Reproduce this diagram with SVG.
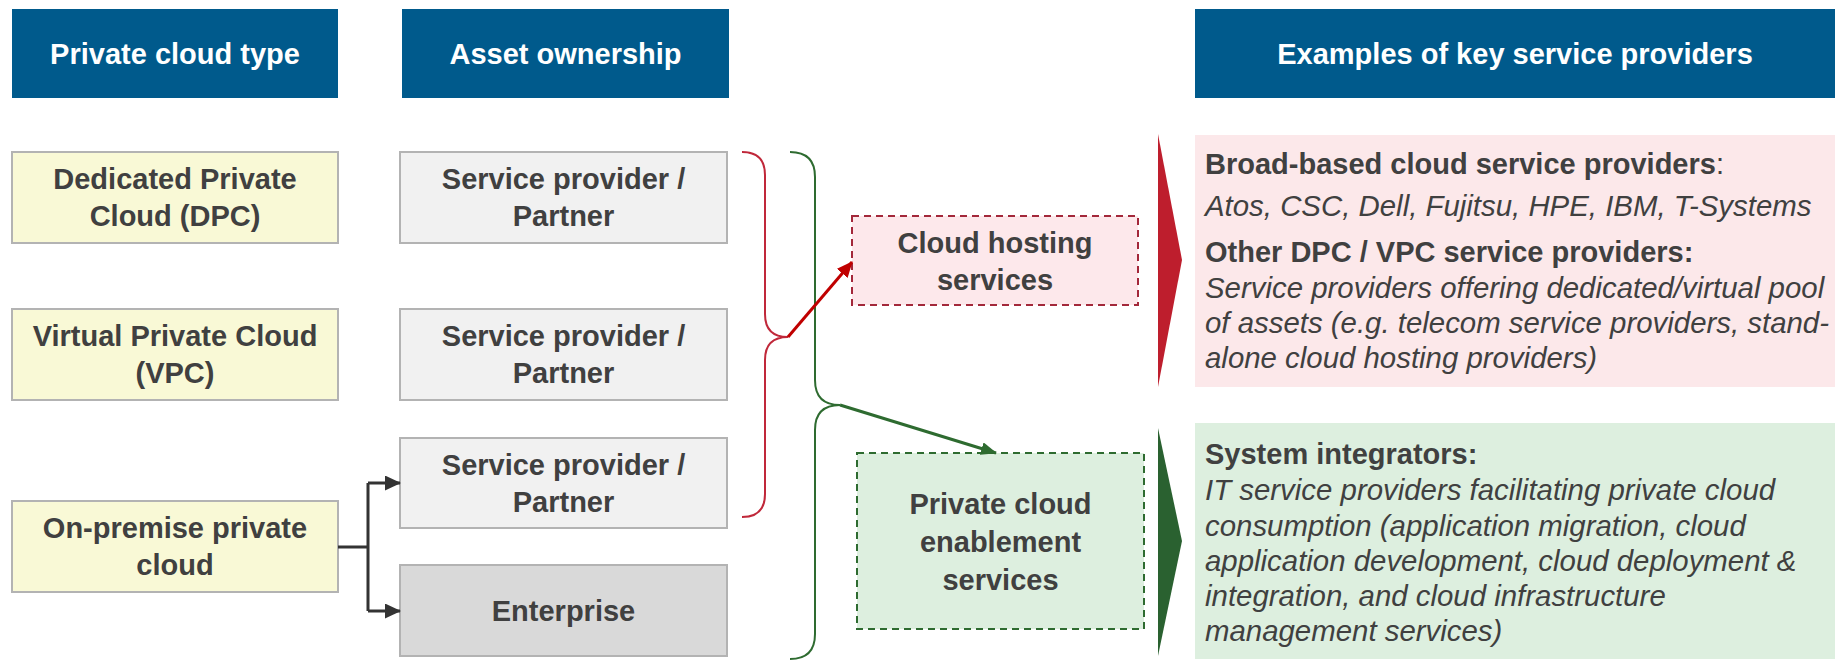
<svg xmlns="http://www.w3.org/2000/svg" width="1835" height="663" viewBox="0 0 1835 663">
<defs>
<style>
text{font-family:"Liberation Sans",Arial,sans-serif;font-size:29px}
.hdr rect{fill:#005a8c}
.hdr text{fill:#fff;font-weight:bold;text-anchor:middle}
.typ rect{fill:#f9f9d6;stroke:#b3b3b3;stroke-width:2}
.own rect{fill:#f1f1f1;stroke:#b3b3b3;stroke-width:2}
.ent rect{fill:#d9d9d9;stroke:#b3b3b3;stroke-width:2}
.nd text{fill:#404040;font-weight:bold;text-anchor:middle}
.host rect{fill:#fde8eb;stroke:#a3283a;stroke-width:2;stroke-dasharray:7 5}
.enab rect{fill:#ddefdf;stroke:#2e6b30;stroke-width:2;stroke-dasharray:7 5}
.pan text{fill:#404040}
.b{font-weight:bold}
.i{font-style:italic;font-size:29.4px}
.blk{fill:#000}
</style>
<marker id="ad" viewBox="0 0 16 15" markerWidth="16" markerHeight="15" refX="15" refY="7.5" orient="auto" markerUnits="userSpaceOnUse"><path d="M0,0 L16,7.5 L0,15 z" fill="#333"/></marker>
<marker id="ar" viewBox="0 0 16 14" markerWidth="16" markerHeight="14" refX="15" refY="7" orient="auto" markerUnits="userSpaceOnUse"><path d="M0,0 L16,7 L0,14 z" fill="#c00000"/></marker>
<marker id="ag" viewBox="0 0 16 13" markerWidth="16" markerHeight="13" refX="15" refY="6.5" orient="auto" markerUnits="userSpaceOnUse"><path d="M0,0 L16,6.5 L0,13 z" fill="#2e6b30"/></marker>
</defs>
<rect width="1835" height="663" fill="#fff"/>

<g id="hdr-type" class="hdr"><rect x="12" y="9" width="326" height="89"/><text x="175" y="64">Private cloud type</text></g>
<g id="hdr-own" class="hdr"><rect x="402" y="9" width="327" height="89"/><text x="565.5" y="64">Asset ownership</text></g>
<g id="hdr-ex" class="hdr"><rect x="1195" y="9" width="640" height="89"/><text x="1515" y="64">Examples of key service providers</text></g>

<g id="dpc" class="nd typ"><rect x="12" y="152" width="326" height="91"/><text x="175" y="189">Dedicated Private</text><text x="175" y="226">Cloud (DPC)</text></g>
<g id="vpc" class="nd typ"><rect x="12" y="309" width="326" height="91"/><text x="175" y="346">Virtual Private Cloud</text><text x="175" y="383">(VPC)</text></g>
<g id="onprem" class="nd typ"><rect x="12" y="501" width="326" height="91"/><text x="175" y="538">On-premise private</text><text x="175" y="575">cloud</text></g>

<g id="sp1" class="nd own"><rect x="400" y="152" width="327" height="91"/><text x="563.5" y="189">Service provider /</text><text x="563.5" y="226">Partner</text></g>
<g id="sp2" class="nd own"><rect x="400" y="309" width="327" height="91"/><text x="563.5" y="346">Service provider /</text><text x="563.5" y="383">Partner</text></g>
<g id="sp3" class="nd own"><rect x="400" y="438" width="327" height="90"/><text x="563.5" y="475">Service provider /</text><text x="563.5" y="512">Partner</text></g>
<g id="ent" class="nd ent"><rect x="400" y="565" width="327" height="91"/><text x="563.5" y="621">Enterprise</text></g>

<g id="host" class="nd host"><rect x="852" y="216" width="286" height="89"/><text x="995" y="253">Cloud hosting</text><text x="995" y="290">services</text></g>
<g id="enab" class="nd enab"><rect x="857" y="453" width="287" height="176"/><text x="1000.5" y="514">Private cloud</text><text x="1000.5" y="552">enablement</text><text x="1000.5" y="590">services</text></g>

<g id="connectors" fill="none">
<path d="M338,547 H368 M368,483 V611" stroke="#333" stroke-width="3"/>
<path d="M368,483 H400" stroke="#333" stroke-width="3" marker-end="url(#ad)"/>
<path d="M368,611 H400" stroke="#333" stroke-width="3" marker-end="url(#ad)"/>
<path d="M742,152 Q765,152 765,175 V314 Q765,337 788,337 Q765,337 765,360 V494 Q765,517 742,517" stroke="#c0283a" stroke-width="2"/>
<path d="M790,152 Q815,152 815,177 V380 Q815,405 840,405 Q815,405 815,430 V634 Q815,659 790,659" stroke="#2e6b30" stroke-width="2"/>
<path d="M788,337 L852,262" stroke="#c00000" stroke-width="3" marker-end="url(#ar)"/>
<path d="M840,405 L996,453" stroke="#2e6b30" stroke-width="3" marker-end="url(#ag)"/>
</g>

<g id="tri-red"><polygon points="1158,134 1182,260 1158,387" fill="#be1e2d"/></g>
<g id="tri-green"><polygon points="1158,428 1182,541 1158,656" fill="#2a6130"/></g>

<g id="panel-hosting" class="pan">
<rect x="1195" y="135" width="640" height="252" fill="#fce8ea"/>
<text x="1205" y="174"><tspan class="b">Broad-based cloud service providers</tspan>:</text>
<text x="1205" y="216" class="i">Atos, CSC, Dell, Fujitsu, HPE, IBM, T-Systems</text>
<text x="1205" y="262" class="b">Other DPC / VPC service providers:</text>
<text x="1205" y="298" class="i">Service providers offering dedicated/virtual pool</text>
<text x="1205" y="333" class="i">of assets (e.g. telecom service providers, stand-</text>
<text x="1205" y="368" class="i">alone cloud hosting providers)</text>
</g>

<g id="panel-enablement" class="pan">
<rect x="1195" y="423" width="640" height="236" fill="#ddefdf"/>
<text x="1205" y="464" class="b">System integrators:</text>
<text x="1205" y="500" class="i blk">IT service providers facilitating private cloud</text>
<text x="1205" y="536" class="i blk">consumption (application migration, cloud</text>
<text x="1205" y="571" class="i blk">application development, cloud deployment &amp;</text>
<text x="1205" y="606" class="i blk">integration, and cloud infrastructure</text>
<text x="1205" y="641" class="i blk">management services)</text>
</g>
</svg>
